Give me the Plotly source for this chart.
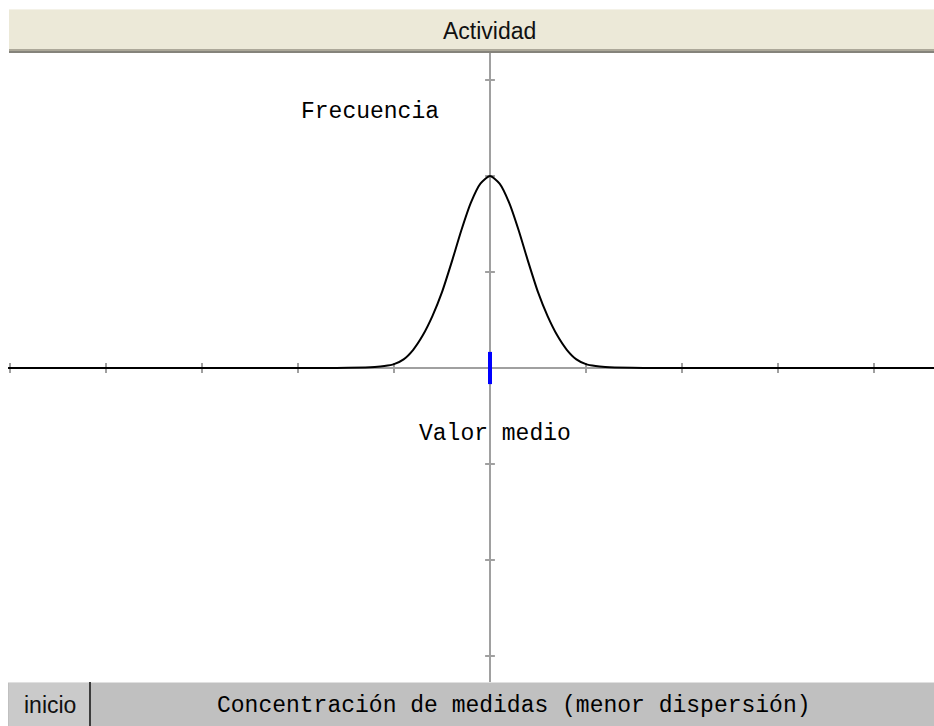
import plotly.graph_objects as go

# curve (x in axis units, y in axis units)
curve_x = [-5.02, -1.6, -1.3, -1.2, -1.1, -1.0, -0.9, -0.8, -0.7, -0.6, -0.5, -0.4,
           -0.3, -0.2, -0.1, 0.0, 0.1, 0.2, 0.3, 0.4, 0.5, 0.6, 0.7, 0.8, 0.9,
           1.0, 1.1, 1.2, 1.3, 1.6, 4.7]
curve_y = [0.0, 0.0, 0.005, 0.01, 0.02, 0.04, 0.09, 0.19, 0.34, 0.54, 0.79, 1.10,
           1.43, 1.72, 1.92, 2.0, 1.92, 1.72, 1.43, 1.10, 0.79, 0.54, 0.34, 0.19, 0.09,
           0.04, 0.02, 0.01, 0.005, 0.0, 0.0]

x_ticks = [-5, -4, -3, -2, -1, 1, 2, 3, 4]
y_ticks = [-3, -2, -1, 1, 2, 3]

title_text = "Actividad"
footer_text = "Concentración de medidas (menor dispersión)"
button_text = "inicio"
freq_label = "Frecuencia"
mean_label = "Valor medio"

W, H = 934, 726
ORIGIN_X, ORIGIN_Y, UNIT = 490, 368, 96  # pixel position of the origin, pixels per unit


def px_x(p):
    return p / W


def px_y(p):
    return 1 - p / H


def rect(x0, y0, x1, y1, color):
    return dict(type="rect", xref="paper", yref="paper",
                x0=px_x(x0), x1=px_x(x1), y0=px_y(y1), y1=px_y(y0),
                fillcolor=color, line=dict(width=0), layer="above")


AXIS_GRAY = "#a0a0a0"
MONO = "Liberation Mono, Courier New, monospace"
SANS = "Liberation Sans, Arial, sans-serif"

fig = go.Figure()

# tick marks on both axes
fig.add_trace(go.Scatter(
    x=x_ticks, y=[0] * len(x_ticks), mode="markers",
    marker=dict(symbol="line-ns", size=7, line=dict(color=AXIS_GRAY, width=2)),
    hoverinfo="skip"))
fig.add_trace(go.Scatter(
    x=[0] * len(y_ticks), y=y_ticks, mode="markers",
    marker=dict(symbol="line-ew", size=7, line=dict(color=AXIS_GRAY, width=2)),
    hoverinfo="skip"))

# frequency curve
fig.add_trace(go.Scatter(
    x=curve_x, y=curve_y, mode="lines",
    line=dict(color="black", width=2, shape="spline", smoothing=0.6),
    hoverinfo="skip"))

# blue mark at the mean
fig.add_trace(go.Scatter(
    x=[0], y=[0], mode="markers",
    marker=dict(symbol="line-ns", size=23, line=dict(color="#0000ff", width=4)),
    hoverinfo="skip"))

shapes = [
    # axes
    dict(type="line", xref="x", yref="paper", x0=0, x1=0, y0=px_y(682), y1=px_y(53),
         line=dict(color=AXIS_GRAY, width=2), layer="below"),
    dict(type="line", xref="paper", yref="y", x0=px_x(8), x1=1, y0=0, y1=0,
         line=dict(color=AXIS_GRAY, width=2), layer="below"),
    # title bar
    rect(9, 9, W, 49, "#ece9d8"),
    rect(9, 9, W, 10, "#f4f2e8"),
    rect(9, 49, W, 51, "#aca899"),
    rect(9, 51, W, 53, "#85837b"),
    # footer bar
    rect(8, 682, W, H, "#c0c0c0"),
    rect(8, 682, W, 683, "#e0e0e0"),
    # button
    rect(9, 683, 89, H, "#cacaca"),
    rect(89, 682, 91, H, "#3c3c3c"),
]

annotations = [
    dict(text=title_text, xref="paper", yref="paper", x=px_x(490), y=px_y(31),
         font=dict(family=SANS, size=23, color="#111111")),
    dict(text=freq_label, xref="x", yref="y", x=(370 - ORIGIN_X) / UNIT, y=(ORIGIN_Y - 112) / UNIT,
         font=dict(family=MONO, size=23, color="black")),
    dict(text=mean_label, xref="x", yref="y", x=(495 - ORIGIN_X) / UNIT, y=(ORIGIN_Y - 434) / UNIT,
         font=dict(family=MONO, size=23, color="black")),
    dict(text=footer_text, xref="paper", yref="paper", x=px_x(514), y=px_y(706),
         font=dict(family=MONO, size=23, color="black")),
    dict(text=button_text, xref="paper", yref="paper", x=px_x(50), y=px_y(705),
         font=dict(family=SANS, size=23, color="#111111")),
]
for a in annotations:
    a.update(showarrow=False, xanchor="center", yanchor="middle")

fig.update_layout(
    width=W, height=H, autosize=False,
    margin=dict(l=0, r=0, t=0, b=0),
    paper_bgcolor="white", plot_bgcolor="white",
    showlegend=False,
    shapes=shapes, annotations=annotations,
    xaxis=dict(range=[-ORIGIN_X / UNIT, (W - ORIGIN_X) / UNIT], visible=False, fixedrange=True),
    yaxis=dict(range=[-(H - ORIGIN_Y) / UNIT, ORIGIN_Y / UNIT], visible=False, fixedrange=True),
)

fig.write_html("out.html", config={"displayModeBar": False},
               post_script="document.body.style.margin='0';document.body.style.overflow='hidden';")
